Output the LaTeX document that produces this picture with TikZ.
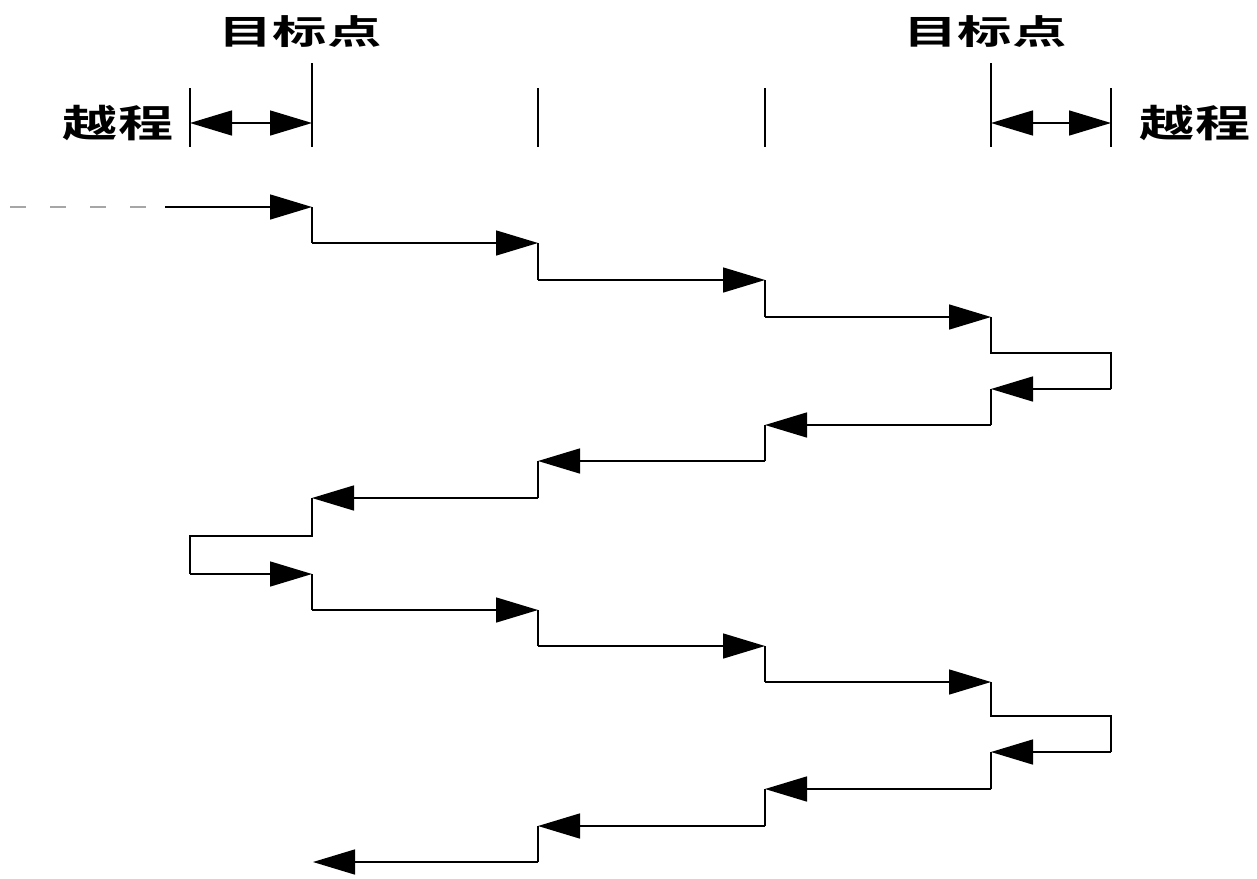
\documentclass[tikz,border=0pt]{standalone}
\usepackage{fontspec}
\newfontfamily\cjk{Noto Sans CJK SC Bold}
\usetikzlibrary{arrows.meta}
\begin{document}
\begin{tikzpicture}[x=0.5pt,y=-0.5pt,
  path/.style={line width=0.75pt,black},
  arr/.style={path,-{Triangle[length=21pt,width=12.5pt]}},
  tick/.style={line width=0.9pt,black},
  dim/.style={line width=0.75pt,{Triangle[length=21pt,width=12.5pt]}-{Triangle[length=21pt,width=12.5pt]}},
  lbl/.style={font=\cjk\fontsize{17pt}{17pt}\selectfont,xscale=1.6,inner sep=0pt},
  lbl2/.style={font=\cjk\fontsize{19pt}{19pt}\selectfont,xscale=1.45,inner sep=0pt}]
\useasboundingbox (0,0) rectangle (1257,878);
% ticks
\coordinate (tA1) at (190,88); \coordinate (tA2) at (190,147);
\coordinate (tB1) at (312,63); \coordinate (tB2) at (312,147);
\coordinate (tC1) at (538,88); \coordinate (tC2) at (538,147);
\coordinate (tD1) at (765,88); \coordinate (tD2) at (765,147);
\coordinate (tE1) at (991,63); \coordinate (tE2) at (991,147);
\coordinate (tF1) at (1111,88); \coordinate (tF2) at (1111,147);
\foreach \c in {A,B,C,D,E,F} \draw[tick] (t\c1) -- (t\c2);
\coordinate (dA) at (190,123); \coordinate (dB) at (312,123);
\coordinate (dE) at (991,123); \coordinate (dF) at (1111,123);
\draw[dim] (dA) -- (dB);
\draw[dim] (dE) -- (dF);
% labels
\node[lbl] (mb1) at (300,32) {目标点};
\node[lbl] (mb2) at (985,32) {目标点};
\node[lbl2] (yc1) at (118,123) {越程};
\node[lbl2] (yc2) at (1195,123) {越程};
% path points
\coordinate (s0) at (10,207); \coordinate (s1) at (165,207);
\coordinate (p1) at (312,207);
\coordinate (p2) at (312,243); \coordinate (p3) at (538,243);
\coordinate (p4) at (538,280); \coordinate (p5) at (765,280);
\coordinate (p6) at (765,317); \coordinate (p7) at (991,317);
\coordinate (p8) at (991,353); \coordinate (p9) at (1111,353);
\coordinate (p10) at (1111,389); \coordinate (p11) at (991,389);
\coordinate (p12) at (991,425); \coordinate (p13) at (765,425);
\coordinate (p14) at (765,461); \coordinate (p15) at (538,461);
\coordinate (p16) at (538,498); \coordinate (p17) at (312,498);
\coordinate (p18) at (312,536); \coordinate (p19) at (190,536);
\coordinate (p20) at (190,574); \coordinate (p21) at (312,574);
\coordinate (p22) at (312,610); \coordinate (p23) at (538,610);
\coordinate (p24) at (538,646); \coordinate (p25) at (765,646);
\coordinate (p26) at (765,682); \coordinate (p27) at (991,682);
\coordinate (p28) at (991,716); \coordinate (p29) at (1111,716);
\coordinate (p30) at (1111,752); \coordinate (p31) at (991,752);
\coordinate (p32) at (991,789); \coordinate (p33) at (765,789);
\coordinate (p34) at (765,826); \coordinate (p35) at (538,826);
\coordinate (p36) at (538,862); \coordinate (p37) at (313,862);
\draw[path,gray!70,dash pattern=on 8pt off 12pt] (s0) -- (s1);
\draw[arr] (s1) -- (p1);
\draw[path] (p1) -- (p2); \draw[arr] (p2) -- (p3);
\draw[path] (p3) -- (p4); \draw[arr] (p4) -- (p5);
\draw[path] (p5) -- (p6); \draw[arr] (p6) -- (p7);
\draw[path] (p7) -- (p8) -- (p9) -- (p10); \draw[arr] (p10) -- (p11);
\draw[path] (p11) -- (p12); \draw[arr] (p12) -- (p13);
\draw[path] (p13) -- (p14); \draw[arr] (p14) -- (p15);
\draw[path] (p15) -- (p16); \draw[arr] (p16) -- (p17);
\draw[path] (p17) -- (p18) -- (p19) -- (p20); \draw[arr] (p20) -- (p21);
\draw[path] (p21) -- (p22); \draw[arr] (p22) -- (p23);
\draw[path] (p23) -- (p24); \draw[arr] (p24) -- (p25);
\draw[path] (p25) -- (p26); \draw[arr] (p26) -- (p27);
\draw[path] (p27) -- (p28) -- (p29) -- (p30); \draw[arr] (p30) -- (p31);
\draw[path] (p31) -- (p32); \draw[arr] (p32) -- (p33);
\draw[path] (p33) -- (p34); \draw[arr] (p34) -- (p35);
\draw[path] (p35) -- (p36); \draw[arr] (p36) -- (p37);
\end{tikzpicture}
\end{document}
